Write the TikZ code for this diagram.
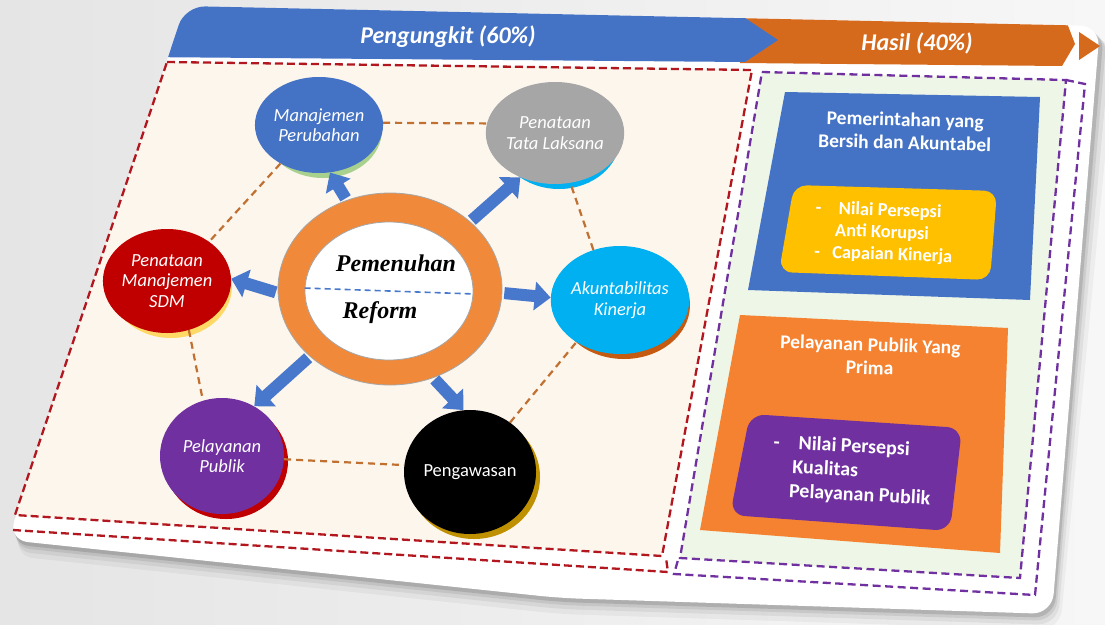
\documentclass[tikz,border=0pt]{standalone}
\usepackage{fontspec}
\setmainfont{Carlito}
\newfontfamily\ringfont{Liberation Serif}
\usetikzlibrary{shapes.geometric,arrows.meta,calc}

\definecolor{bgA}{RGB}{229,229,230}
\definecolor{bgB}{RGB}{247,247,247}
\definecolor{bannerblue}{RGB}{68,114,196}
\definecolor{bannerorange}{RGB}{214,106,28}
\definecolor{cream}{RGB}{253,246,237}
\definecolor{mint}{RGB}{238,246,231}
\definecolor{redline}{RGB}{178,22,30}
\definecolor{purpleline}{RGB}{112,48,160}
\definecolor{boxblue}{RGB}{68,114,196}
\definecolor{boxyellow}{RGB}{255,192,0}
\definecolor{boxorange}{RGB}{245,130,48}
\definecolor{boxpurple}{RGB}{112,48,160}
\definecolor{ringorange}{RGB}{240,137,58}
\definecolor{arrowblue}{RGB}{72,120,204}
\definecolor{linkbrown}{RGB}{192,112,48}
\definecolor{mpfill}{RGB}{68,114,196}
\definecolor{mpshade}{RGB}{169,209,142}
\definecolor{tlfill}{RGB}{166,166,166}
\definecolor{tlshade}{RGB}{0,176,240}
\definecolor{sdmfill}{RGB}{192,0,0}
\definecolor{sdmshade}{RGB}{255,217,102}
\definecolor{akfill}{RGB}{0,176,240}
\definecolor{akshade}{RGB}{197,90,17}
\definecolor{ppfill}{RGB}{112,48,160}
\definecolor{ppshade}{RGB}{192,0,0}
\definecolor{pgfill}{RGB}{0,0,0}
\definecolor{pgshade}{RGB}{191,144,0}

\tikzset{
  bubbleshape/.style={ellipse, inner sep=0pt, align=center, text=white,
    font=\fontsize{18.5}{20.5}\selectfont\itshape},
  blk/.style={arrowblue, line width=12pt, shorten <=2pt,
    -{Triangle[length=16pt,width=28pt]}},
  link/.style={linkbrown, line width=2.2pt, dash pattern=on 7pt off 5pt},
  reddash/.style={redline, line width=2.3pt, dash pattern=on 8pt off 4pt},
  purpledash/.style={purpleline, line width=2.3pt, dash pattern=on 8pt off 4.5pt},
  boxtext/.style={text=white, align=center, font=\fontsize{19.5}{23}\selectfont\bfseries},
  bannertext/.style={text=white, font=\fontsize{24}{26}\selectfont\bfseries\itshape},
}

% circle with an offset coloured rim behind it
\newcommand\bubble[8]{%
  \node[bubbleshape, fill=#7, minimum width=2*#4, minimum height=2*#5] (#1s) at (#2+4,#3+5) {};
  \node[bubbleshape, fill=#6, minimum width=2*#4, minimum height=2*#5] (#1) at (#2,#3) {#8};
}

\begin{document}
\begin{tikzpicture}[x=1pt,y=-1pt]
\useasboundingbox (0,0) rectangle (1105,624);

% backdrop
\shade[left color=bgA, right color=bgB] (0,0) rectangle (1105,624);

% card shadow
\foreach \o/\a in {16/0.04, 11/0.06, 7/0.08, 4/0.12}
  \fill[black, opacity=\a, rounded corners=20]
    (185+\o/2,6+\o) -- (1100+\o,26+\o) -- (1052+\o/2,614+\o) -- (560,598+\o) -- (8+\o/3,540+\o) -- cycle;

% card
\fill[white, rounded corners=20]
  (185,6) -- (1100,26) -- (1052,614) -- (560,598) -- (8,540) -- cycle;

% header bands
\begin{scope}
  \clip[rounded corners=20] (185,6) -- (1100,26) -- (1052,614) -- (560,598) -- (8,540) -- cycle;
  \fill[bannerorange] (740,0) -- (1062,10) -- (1075,44) -- (1062,66) -- (740,63) -- cycle;
  \fill[bannerblue] (140,-10) -- (745,0) -- (745,18) -- (778,40) -- (745,62) -- (140,57) -- cycle;
\end{scope}
\fill[bannerorange] (1079,32) -- (1100,46) -- (1079,60) -- cycle;
\node[bannertext] (hdrA) at (448,37) {Pengungkit (60\%)};
\node[bannertext] (hdrB) at (917,43) {Hasil (40\%)};

% left panel
\fill[cream] (167,62) -- (752,70) -- (662,556) -- (15,515) -- cycle;
\draw[reddash] (167,62) -- (752,70) -- (662,556) -- (15,515) -- cycle;
\draw[reddash] (13,530) -- (668,572) -- (666,558);

% right panel
\fill[mint] (762,72) -- (1066,80) -- (1020,578) -- (680,558) -- cycle;
\draw[purpledash] (762,72) -- (1066,80) -- (1020,578) -- (680,558) -- cycle;
\draw[purpledash] (1066,80) -- (1085,84) -- (1035,595) -- (674,574) -- (678,560);

% result boxes
\fill[boxblue] (785,92) -- (1040,97) -- (1030,300) -- (748,290) -- cycle;
\node[boxtext, rotate=-1.5] (goalA) at (905,131) {Pemerintahan yang\\Bersih dan Akuntabel};
\fill[boxyellow, rounded corners=13] (794,185) -- (997,191) -- (990,280) -- (779,272) -- cycle;
\node[text=white, align=left, rotate=-2, font=\fontsize{18.5}{22}\selectfont\bfseries]
  (goalAi) at (884,233)
  {\makebox[23pt][l]{-}Nilai Persepsi\\\hspace{20pt}Anti Korupsi\\\makebox[18pt][l]{-}Capaian Kinerja};

\fill[boxorange] (740,315) -- (1008,328) -- (1000,553) -- (700,530) -- cycle;
\node[boxtext, rotate=-2] (goalB) at (870,356) {Pelayanan Publik Yang\\Prima};
\fill[boxpurple, rounded corners=15] (750,414) -- (962,428) -- (950,531) -- (730,515) -- cycle;
\node[text=white, align=left, rotate=-3, font=\fontsize{20}{24}\selectfont\bfseries]
  (goalBi) at (852,471)
  {\makebox[25pt][l]{-}Nilai Persepsi\\\hspace{20pt}Kualitas\\\hspace{18pt}Pelayanan Publik};

% centre ring
\node[ellipse, fill=ringorange, draw=gray!70, line width=0.8pt, minimum width=224, minimum height=192] (ring) at (390,289) {};
\node[ellipse, fill=white, draw=gray!70, line width=0.8pt, minimum width=168, minimum height=138] (core) at (389,291) {};
\draw[arrowblue, line width=1.6pt, dash pattern=on 6pt off 4pt] (core.178) -- (core.-2);
\node[font=\ringfont\fontsize{24}{26}\selectfont\bfseries\itshape] (wordA) at (396,263) {Pemenuhan};
\node[font=\ringfont\fontsize{24}{26}\selectfont\bfseries\itshape] (wordB) at (380,313) {Reform};

% six components
\bubble{mp}{319}{125}{59}{48}{mpfill}{mpshade}{Manajemen\\Perubahan}
\bubble{tl}{555}{133}{61}{51}{tlfill}{tlshade}{Penataan\\Tata Laksana}
\bubble{sdm}{167}{281}{61}{52}{sdmfill}{sdmshade}{Penataan\\Manajemen\\SDM}
\bubble{ak}{620}{300}{66}{54}{akfill}{akshade}{Akuntabilitas\\Kinerja}
\bubble{pp}{222}{456}{62}{58}{ppfill}{ppshade}{Pelayanan\\Publik}
\bubble{pg}{470}{472}{66}{62}{pgfill}{pgshade}{\upshape Pengawasan}

% links between components
\draw[link] (mp.2) -- (tl.172);
\draw[link] (mp.-135) -- (sdm.43);
\draw[link] (sdm.-66) -- (pp.109);
\draw[link] (pp.-3) -- (pg.174);
\draw[link] (pg.51) -- (ak.-136);
\draw[link] (ak.118) -- (tl.-73);

% arrows out of the ring
\draw[blk] (ring.116) -- (mp.-77);
\draw[blk] (ring.40) -- (tl.-128);
\draw[blk] (ring.182) -- (sdm.2);
\draw[blk] (ring.-2) -- (ak.178);
\draw[blk] (ring.-140) -- (pp.57);
\draw[blk] (ring.-64) -- (pg.96);
\end{tikzpicture}
\end{document}
